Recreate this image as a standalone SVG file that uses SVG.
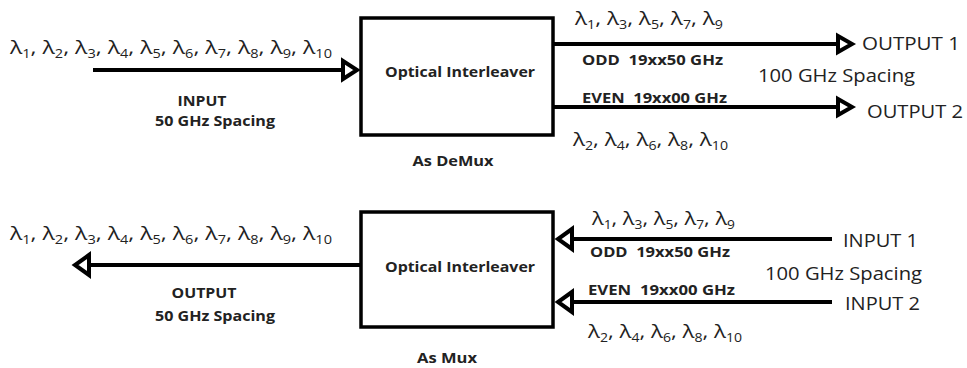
<svg xmlns="http://www.w3.org/2000/svg" width="967" height="368" viewBox="0 0 967 368">
<style>
text{font-family:"Open Sans","Liberation Sans",sans-serif;fill:#222;white-space:pre}
.lam{font-size:19px}
.s{font-size:12px;baseline-shift:-4px}
.big{font-size:18px}
.b{font-weight:bold;font-size:14px}
.bt{font-weight:bold;font-size:15px}
.box{fill:#fff;stroke:#000;stroke-width:3.5}
.ln{stroke:#000;stroke-width:4;fill:none}
.ah{fill:#fff;stroke:#000;stroke-width:4;stroke-linejoin:miter}
</style>
<rect width="967" height="368" fill="#fff"/>
<g id="connectors">
<line class="ln" x1="93" y1="70" x2="343" y2="70"/>
<polygon class="ah" points="343,61 357,70 343,79"/>
<line class="ln" x1="553" y1="44" x2="838" y2="44"/>
<polygon class="ah" points="838,36 852,44 838,52"/>
<line class="ln" x1="553" y1="107" x2="838" y2="107"/>
<polygon class="ah" points="838,99 852,107 838,115"/>
<line class="ln" x1="89" y1="265" x2="361" y2="265"/>
<polygon class="ah" points="89,255 75,265 89,275"/>
<line class="ln" x1="572" y1="239" x2="832" y2="239"/>
<polygon class="ah" points="572,229 558,239 572,249"/>
<line class="ln" x1="572" y1="302" x2="832" y2="302"/>
<polygon class="ah" points="572,292 558,302 572,312"/>
</g>
<g id="demux">
<rect class="box" x="361" y="18" width="192" height="117"/>
<text class="bt" x="460" y="77" text-anchor="middle" textLength="150" lengthAdjust="spacingAndGlyphs">Optical Interleaver</text>
<text class="bt" x="453" y="166" text-anchor="middle" textLength="81" lengthAdjust="spacingAndGlyphs">As DeMux</text>
</g>
<g id="mux">
<rect class="box" x="361" y="212" width="192" height="115"/>
<text class="bt" x="460" y="272" text-anchor="middle" textLength="150" lengthAdjust="spacingAndGlyphs">Optical Interleaver</text>
<text class="bt" x="447" y="363" text-anchor="middle" textLength="60" lengthAdjust="spacingAndGlyphs">As Mux</text>
</g>
<g id="demux-input">
<text class="lam" x="10" y="54" textLength="322" lengthAdjust="spacingAndGlyphs">λ<tspan class="s">1</tspan>, λ<tspan class="s">2</tspan>, λ<tspan class="s">3</tspan>, λ<tspan class="s">4</tspan>, λ<tspan class="s">5</tspan>, λ<tspan class="s">6</tspan>, λ<tspan class="s">7</tspan>, λ<tspan class="s">8</tspan>, λ<tspan class="s">9</tspan>, λ<tspan class="s">10</tspan></text>
<text class="b" x="202" y="106" text-anchor="middle" textLength="49" lengthAdjust="spacingAndGlyphs">INPUT</text>
<text class="b" x="215" y="126" text-anchor="middle" textLength="120" lengthAdjust="spacingAndGlyphs">50 GHz Spacing</text>
</g>
<g id="demux-outputs">
<text class="lam" x="575" y="25" textLength="148" lengthAdjust="spacingAndGlyphs">λ<tspan class="s">1</tspan>, λ<tspan class="s">3</tspan>, λ<tspan class="s">5</tspan>, λ<tspan class="s">7</tspan>, λ<tspan class="s">9</tspan></text>
<text class="b" x="582" y="65" textLength="141" lengthAdjust="spacingAndGlyphs">ODD  19xx50 GHz</text>
<text class="big" x="862" y="50" textLength="98" lengthAdjust="spacingAndGlyphs">OUTPUT 1</text>
<text class="big" x="758" y="82" textLength="157" lengthAdjust="spacingAndGlyphs">100 GHz Spacing</text>
<text class="b" x="582" y="103" textLength="145" lengthAdjust="spacingAndGlyphs">EVEN  19xx00 GHz</text>
<text class="big" x="867" y="118" textLength="96" lengthAdjust="spacingAndGlyphs">OUTPUT 2</text>
<text class="lam" x="573" y="146" textLength="155" lengthAdjust="spacingAndGlyphs">λ<tspan class="s">2</tspan>, λ<tspan class="s">4</tspan>, λ<tspan class="s">6</tspan>, λ<tspan class="s">8</tspan>, λ<tspan class="s">10</tspan></text>
</g>
<g id="mux-output">
<text class="lam" x="10" y="240" textLength="322" lengthAdjust="spacingAndGlyphs">λ<tspan class="s">1</tspan>, λ<tspan class="s">2</tspan>, λ<tspan class="s">3</tspan>, λ<tspan class="s">4</tspan>, λ<tspan class="s">5</tspan>, λ<tspan class="s">6</tspan>, λ<tspan class="s">7</tspan>, λ<tspan class="s">8</tspan>, λ<tspan class="s">9</tspan>, λ<tspan class="s">10</tspan></text>
<text class="b" x="204" y="298" text-anchor="middle" textLength="65" lengthAdjust="spacingAndGlyphs">OUTPUT</text>
<text class="b" x="215" y="321" text-anchor="middle" textLength="120" lengthAdjust="spacingAndGlyphs">50 GHz Spacing</text>
</g>
<g id="mux-inputs">
<text class="lam" x="592" y="225" textLength="143" lengthAdjust="spacingAndGlyphs">λ<tspan class="s">1</tspan>, λ<tspan class="s">3</tspan>, λ<tspan class="s">5</tspan>, λ<tspan class="s">7</tspan>, λ<tspan class="s">9</tspan></text>
<text class="b" x="590" y="257" textLength="140" lengthAdjust="spacingAndGlyphs">ODD  19xx50 GHz</text>
<text class="big" x="843" y="247" textLength="75" lengthAdjust="spacingAndGlyphs">INPUT 1</text>
<text class="big" x="765" y="280" textLength="157" lengthAdjust="spacingAndGlyphs">100 GHz Spacing</text>
<text class="b" x="588" y="295" textLength="147" lengthAdjust="spacingAndGlyphs">EVEN  19xx00 GHz</text>
<text class="big" x="845" y="310" textLength="75" lengthAdjust="spacingAndGlyphs">INPUT 2</text>
<text class="lam" x="588" y="338" textLength="154" lengthAdjust="spacingAndGlyphs">λ<tspan class="s">2</tspan>, λ<tspan class="s">4</tspan>, λ<tspan class="s">6</tspan>, λ<tspan class="s">8</tspan>, λ<tspan class="s">10</tspan></text>
</g>
</svg>
